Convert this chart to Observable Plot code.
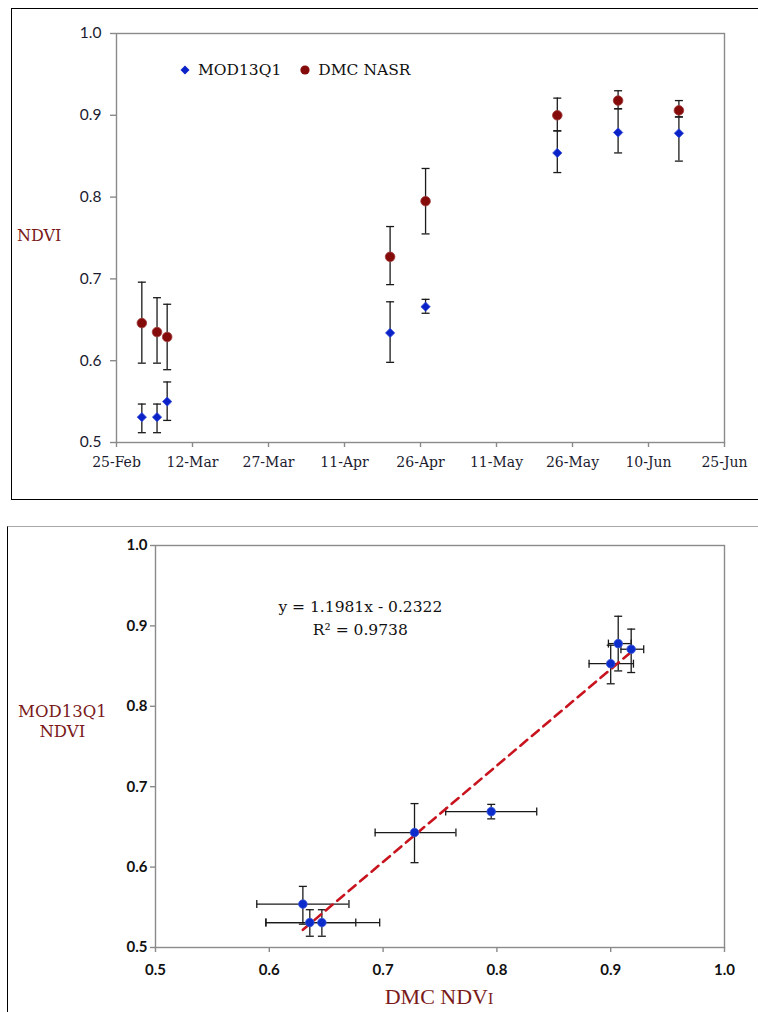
<!DOCTYPE html>
<html>
<head>
<meta charset="utf-8">
<script src="https://cdn.jsdelivr.net/npm/d3@7"></script>
<script src="https://cdn.jsdelivr.net/npm/@observablehq/plot@0.6"></script>
<style>
  html, body { margin: 0; padding: 0; background: #fff; }
  #root { position: relative; width: 758px; height: 1012px; overflow: hidden; background: #fff; }
  #root > svg { position: absolute; left: 0; }
  .frame { position: absolute; pointer-events: none; box-sizing: border-box; }
  .lbl { position: absolute; color: #7a1a1a; font-family: "DejaVu Serif", serif; text-align: center; white-space: nowrap; }
  .legend { position: absolute; left: 179px; top: 61px; font-family: "DejaVu Serif", serif; font-size: 15.5px; color: #111; display: flex; align-items: center; }
  .legend svg { margin-right: 7px; }
</style>
</head>
<body>
<div id="root"></div>
<script>
// ---------- Top chart data (time series) ----------
const obsDates = ["2013-03-02", "2013-03-05", "2013-03-07", "2013-04-20", "2013-04-27", "2013-05-23", "2013-06-04", "2013-06-16"];
const modValues = [0.531, 0.531, 0.550, 0.634, 0.666, 0.854, 0.879, 0.878];
const modLow    = [0.512, 0.512, 0.527, 0.598, 0.658, 0.830, 0.854, 0.844];
const modHigh   = [0.547, 0.547, 0.574, 0.672, 0.675, 0.881, 0.908, 0.898];
const dmcValues = [0.646, 0.635, 0.629, 0.727, 0.795, 0.900, 0.918, 0.906];
const dmcLow    = [0.597, 0.597, 0.589, 0.693, 0.755, 0.881, 0.908, 0.898];
const dmcHigh   = [0.696, 0.677, 0.669, 0.764, 0.835, 0.921, 0.930, 0.918];
const dateTicks = ["2013-02-25", "2013-03-12", "2013-03-27", "2013-04-11", "2013-04-26", "2013-05-11", "2013-05-26", "2013-06-10", "2013-06-25"];
const ndviTicks = [0.5, 0.6, 0.7, 0.8, 0.9, 1.0];

// ---------- Bottom chart data (scatter) ----------
const scatDmc    = [0.6295, 0.6356, 0.6462, 0.7276, 0.795, 0.900, 0.9066, 0.918];
const scatMod    = [0.554, 0.531, 0.531, 0.643, 0.669, 0.853, 0.878, 0.871];
const scatDmcLow = [0.589, 0.597, 0.597, 0.693, 0.755, 0.881, 0.898, 0.909];
const scatDmcHigh= [0.670, 0.676, 0.697, 0.764, 0.835, 0.920, 0.918, 0.929];
const scatModLow = [0.529, 0.514, 0.514, 0.6055, 0.660, 0.828, 0.844, 0.842];
const scatModHigh= [0.576, 0.547, 0.547, 0.679, 0.678, 0.876, 0.912, 0.896];
const scatTicks  = [0.5, 0.6, 0.7, 0.8, 0.9, 1.0];
const fitSlope = 1.1981, fitIntercept = -0.2322, fitR2 = 0.9738;

const parse = d3.utcParse("%Y-%m-%d");
const series = obsDates.map((d, i) => ({
  date: parse(d), mod: modValues[i], modLo: modLow[i], modHi: modHigh[i],
  dmc: dmcValues[i], dmcLo: dmcLow[i], dmcHi: dmcHigh[i]
}));
const scat = scatDmc.map((x, i) => ({
  x, y: scatMod[i], xLo: scatDmcLow[i], xHi: scatDmcHigh[i], yLo: scatModLow[i], yHi: scatModHigh[i]
}));
const fitLine = [d3.min(scatDmc), d3.max(scatDmc)].map(x => ({x, y: fitSlope * x + fitIntercept}));

// cap symbols for error bars
const capH = { draw(ctx, size) { const w = Math.sqrt(size / Math.PI); ctx.moveTo(-w, 0); ctx.lineTo(w, 0); } };
const capV = { draw(ctx, size) { const w = Math.sqrt(size / Math.PI); ctx.moveTo(0, -w); ctx.lineTo(0, w); } };

const BLUE = "#0a22c8", DARKRED = "#850a0a", ERR = "#1a1a1a", AXIS = "#8a8a8a";

const root = document.getElementById("root");

// ---------- Top chart ----------
const topChart = Plot.plot({
  width: 758, height: 500,
  marginLeft: 116, marginRight: 34, marginTop: 33, marginBottom: 58,
  style: { background: "transparent", overflow: "visible" },
  x: { type: "utc", domain: [parse(dateTicks[0]), parse(dateTicks[dateTicks.length - 1])] },
  y: { domain: [0.5, 1.0] },
  marks: [
    Plot.frame({ stroke: AXIS, strokeWidth: 1.4 }),
    Plot.axisX({ ticks: dateTicks.map(parse), tickFormat: d3.utcFormat("%-d-%b"), tickSize: 5, tickPadding: 10,
      label: null, stroke: AXIS, strokeWidth: 1.4, fill: "#1b1b30", fontFamily: "DejaVu Serif", fontSize: 14 }),
    Plot.axisY({ ticks: ndviTicks, tickFormat: d3.format(".1f"), tickSize: 6, tickPadding: 9,
      label: null, stroke: AXIS, strokeWidth: 1.4, fill: "#1b1b30", fontFamily: "Lato", fontSize: 15.5 }),
    // MOD13Q1 error bars
    Plot.ruleX(series, { x: "date", y1: "modLo", y2: "modHi", stroke: ERR, strokeWidth: 1.3 }),
    Plot.dot(series, { x: "date", y: "modLo", symbol: capH, r: 4, stroke: ERR, strokeWidth: 1.3 }),
    Plot.dot(series, { x: "date", y: "modHi", symbol: capH, r: 4, stroke: ERR, strokeWidth: 1.3 }),
    // DMC error bars
    Plot.ruleX(series, { x: "date", y1: "dmcLo", y2: "dmcHi", stroke: ERR, strokeWidth: 1.3 }),
    Plot.dot(series, { x: "date", y: "dmcLo", symbol: capH, r: 4, stroke: ERR, strokeWidth: 1.3 }),
    Plot.dot(series, { x: "date", y: "dmcHi", symbol: capH, r: 4, stroke: ERR, strokeWidth: 1.3 }),
    // points
    Plot.dot(series, { x: "date", y: "mod", symbol: "diamond2", r: 4.2, fill: BLUE, stroke: "#3a50d8", strokeWidth: 0.8 }),
    Plot.dot(series, { x: "date", y: "dmc", r: 4.8, fill: DARKRED, stroke: "#a03a3a", strokeWidth: 0.8 })
  ]
});
topChart.style.top = "0px";
root.appendChild(topChart);

// ---------- Bottom chart ----------
const bottomChart = Plot.plot({
  width: 758, height: 512,
  marginLeft: 155, marginRight: 34, marginTop: 45, marginBottom: 65,
  style: { background: "transparent", overflow: "visible" },
  x: { domain: [0.5, 1.0] },
  y: { domain: [0.5, 1.0] },
  marks: [
    Plot.frame({ stroke: AXIS, strokeWidth: 1.4 }),
    Plot.axisX({ ticks: scatTicks, tickFormat: d3.format(".1f"), tickSize: 5, tickPadding: 12,
      label: null, stroke: AXIS, strokeWidth: 1.4, fill: "#111", fontFamily: "Lato", fontWeight: "bold", fontSize: 15 }),
    Plot.axisY({ ticks: scatTicks, tickFormat: d3.format(".1f"), tickSize: 5, tickPadding: 3,
      label: null, stroke: AXIS, strokeWidth: 1.4, fill: "#111", fontFamily: "Lato", fontWeight: "bold", fontSize: 15 }),
    // error bars
    Plot.ruleY(scat, { y: "y", x1: "xLo", x2: "xHi", stroke: ERR, strokeWidth: 1.3 }),
    Plot.dot(scat, { x: "xLo", y: "y", symbol: capV, r: 4, stroke: ERR, strokeWidth: 1.3 }),
    Plot.dot(scat, { x: "xHi", y: "y", symbol: capV, r: 4, stroke: ERR, strokeWidth: 1.3 }),
    Plot.ruleX(scat, { x: "x", y1: "yLo", y2: "yHi", stroke: ERR, strokeWidth: 1.3 }),
    Plot.dot(scat, { x: "x", y: "yLo", symbol: capH, r: 4, stroke: ERR, strokeWidth: 1.3 }),
    Plot.dot(scat, { x: "x", y: "yHi", symbol: capH, r: 4, stroke: ERR, strokeWidth: 1.3 }),
    // trend line
    Plot.line(fitLine, { x: "x", y: "y", stroke: "#c8141e", strokeWidth: 2.6, strokeDasharray: "9,6" }),
    // points
    Plot.dot(scat, { x: "x", y: "y", r: 4.3, fill: "#0c2ccc", stroke: "#3a58d8", strokeWidth: 0.8 }),
    // equation
    Plot.text([`y = ${fitSlope}x - ${Math.abs(fitIntercept)}\nR² = ${fitR2}`], {
      x: 0.68, y: 0.937, text: d => d, lineAnchor: "top", lineHeight: 1.45,
      fontFamily: "DejaVu Serif", fontSize: 15.5, fill: "#111"
    })
  ]
});
bottomChart.style.top = "500px";
root.appendChild(bottomChart);

// ---------- Legend (top chart) ----------
const legend = document.createElement("div");
legend.className = "legend";
legend.innerHTML = `
  <svg width="12" height="12" viewBox="-6 -6 12 12"><path d="M0,-4.5L4.5,0L0,4.5L-4.5,0Z" fill="${BLUE}"/></svg>
  <span style="margin-right:18px">MOD13Q1</span>
  <svg width="12" height="12" viewBox="-6 -6 12 12"><circle r="4.6" fill="${DARKRED}"/></svg>
  <span>DMC NASR</span>`;
root.appendChild(legend);

// ---------- Axis titles ----------
function label(html, css) {
  const d = document.createElement("div");
  d.className = "lbl";
  d.innerHTML = html;
  Object.assign(d.style, css);
  root.appendChild(d);
}
label("NDVI", { left: "17px", top: "226px", fontSize: "16px" });
label("MOD13Q1<br>NDVI", { left: "18px", top: "702px", fontSize: "16.5px", lineHeight: "20px" });
label("DMC NDV<span style='font-size:0.72em'>I</span>", { left: "339px", top: "984px", width: "200px", fontSize: "22px", fontFamily: "'Liberation Serif', serif" });

// ---------- Outer frames ----------
function frame(css) {
  const d = document.createElement("div");
  d.className = "frame";
  Object.assign(d.style, css);
  root.appendChild(d);
}
frame({ left: "11px", top: "8px", width: "800px", height: "492px", border: "1.5px solid #000" });
frame({ left: "7px", top: "526px", width: "800px", height: "600px", borderLeft: "1.5px solid #000", borderTop: "1.5px solid #a8a8a8" });
</script>
</body>
</html>
